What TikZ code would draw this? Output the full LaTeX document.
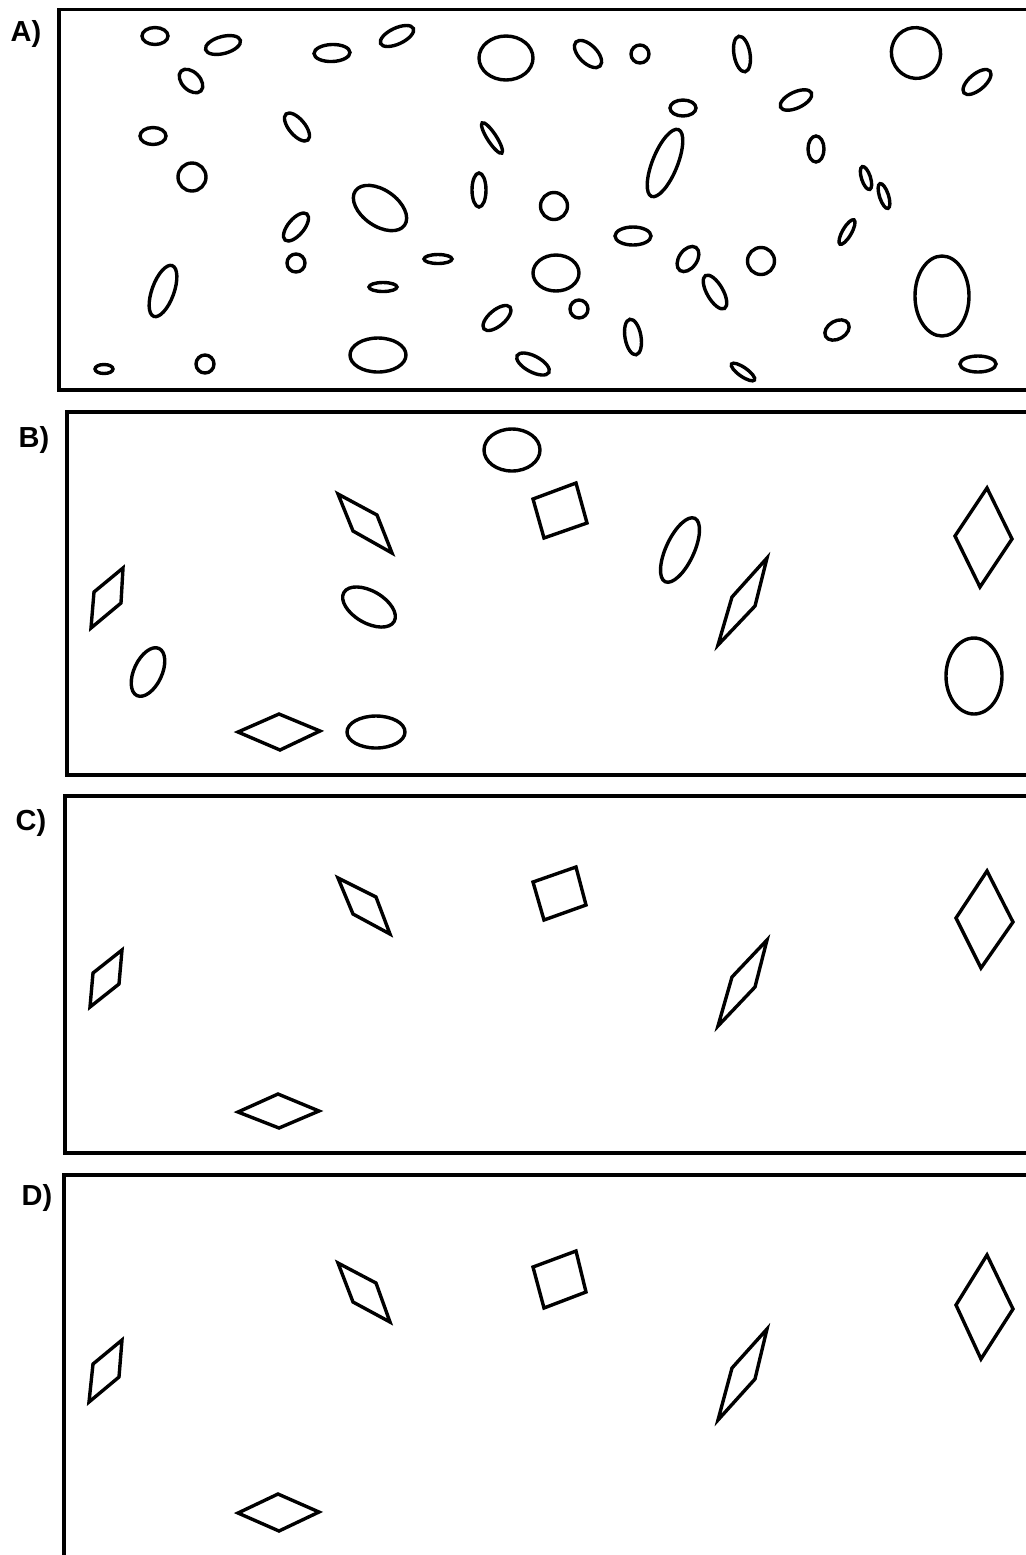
\documentclass[tikz,border=0pt]{standalone}
\usepackage{fontspec}
\setmainfont{Liberation Sans}
\tikzset{
  framepath/.style={line width=1.9pt, line cap=rect},
  shp/.style={line width=1.7pt, line join=miter},
  lab/.style={font=\fontsize{14.5}{16}\selectfont\bfseries, inner sep=0pt}
}
\newcommand{\elp}[5]{\draw[shp, rotate around={#5:(#1,#2)}] (#1,#2) ellipse [x radius=#3, y radius=#4];}
\newcommand{\quadr}[8]{\draw[shp] (#1,#2) -- (#3,#4) -- (#5,#6) -- (#7,#8) -- cycle;}
\begin{document}
\begin{tikzpicture}[x=0.5pt, y=-0.5pt]
\useasboundingbox (0,0) rectangle (1026,1555);
% ---------- labels ----------
\node[lab] (la) at (26,34) {A)};
\node[lab] (lb) at (34,440) {B)};
\node[lab] (lc) at (31,823) {C)};
\node[lab] (ld) at (37,1198) {D)};
% ---------- frames ----------
\draw[framepath] (1040,9.5) -- (59,9.5) -- (59,390) -- (1040,390);
\draw[framepath] (1040,412) -- (67,412) -- (67,775) -- (1040,775);
\draw[framepath] (1040,796) -- (65,796) -- (65,1153) -- (1040,1153);
\draw[framepath] (1040,1175) -- (64,1175) -- (64,1570);
% ---------- panel A ----------
\elp{155}{36}{13}{8.5}{0}
\elp{223}{45}{18}{8.5}{15}
\elp{191}{81}{14}{9}{-45}
\elp{153}{136}{13}{8.5}{0}
\elp{192}{177}{14}{14}{0}
\elp{332}{53}{18}{8.5}{2}
\elp{397}{36}{18}{8}{25}
\elp{297}{127}{17}{8}{-50}
\elp{506}{58}{27}{22}{0}
\elp{492}{138}{18}{4.5}{-57}
\elp{479}{190}{7}{17}{0}
\elp{588}{54}{17}{9}{-45}
\elp{640}{54}{9}{9}{0}
\elp{742}{54}{18}{8}{100}
\elp{916}{53}{24.5}{25.5}{20}
\elp{977}{82}{17}{8}{40}
\elp{683}{108}{13}{8}{0}
\elp{796}{100}{17}{8}{25}
\elp{816}{149}{8}{13}{0}
\elp{665}{163}{36}{12.5}{68}
\elp{866}{178}{12}{4.5}{108}
\elp{884}{196}{13}{4.5}{108}
\elp{380}{208}{30}{18}{-35}
\elp{296}{227}{17}{8}{50}
\elp{296}{263}{9}{9}{0}
\elp{163}{291}{27}{11}{70}
\elp{438}{259}{14}{4.5}{0}
\elp{383}{287}{14}{4.5}{0}
\elp{497}{318}{17}{8}{40}
\elp{378}{355}{28}{17}{0}
\elp{104}{369}{9}{4.5}{0}
\elp{205}{364}{9}{9}{0}
\elp{554}{206}{13.5}{13.5}{0}
\elp{633}{236}{18}{9}{0}
\elp{556}{273}{23}{18}{0}
\elp{579}{309}{9}{9}{0}
\elp{688}{259}{14}{9}{55}
\elp{715}{292}{19}{8}{-60}
\elp{761}{261}{13.5}{13.5}{0}
\elp{633}{337}{18}{8}{100}
\elp{533}{364}{18}{8}{-28}
\elp{743}{372}{14}{4.5}{-35}
\elp{847}{232}{14}{4.5}{60}
\elp{837}{330}{13}{9}{30}
\elp{942}{296}{27}{40}{0}
\elp{978}{364}{18}{8}{0}
% ---------- panel B ----------
\elp{512}{450}{28}{21}{0}
\elp{369}{607}{29}{16}{-30}
\elp{148}{672}{26}{14}{65}
\elp{376}{732}{29}{16}{0}
\elp{680}{550}{35}{14}{65}
\elp{974}{676}{28}{38}{0}
\quadr{338}{494}{377}{515}{392}{553}{353}{531}
\quadr{123}{568}{121}{603}{91}{628}{94}{592}
\quadr{238}{732}{279}{714}{320}{731}{280}{750}
\quadr{533}{499}{576}{483}{587}{523}{544}{538}
\quadr{767}{558}{755}{606}{718}{645}{732}{597}
\quadr{987}{488}{1012}{539}{980}{587}{955}{536}
% ---------- panel C ----------
\quadr{338}{878}{376}{897}{390}{934}{353}{914}
\quadr{122}{950}{119}{984}{90}{1007}{93}{973}
\quadr{238}{1112}{278}{1094}{319}{1111}{279}{1128}
\quadr{533}{882}{576}{867}{586}{905}{544}{920}
\quadr{767}{940}{755}{987}{718}{1026}{732}{977}
\quadr{987}{871}{1013}{922}{981}{968}{956}{918}
% ---------- panel D ----------
\quadr{338}{1263}{376}{1283}{390}{1322}{353}{1302}
\quadr{122}{1340}{119}{1377}{89}{1402}{93}{1364}
\quadr{238}{1513}{278}{1494}{319}{1512}{279}{1531}
\quadr{533}{1267}{576}{1251}{586}{1292}{544}{1308}
\quadr{767}{1329}{755}{1379}{718}{1420}{732}{1368}
\quadr{987}{1255}{1013}{1309}{981}{1359}{956}{1305}
\end{tikzpicture}
\end{document}
